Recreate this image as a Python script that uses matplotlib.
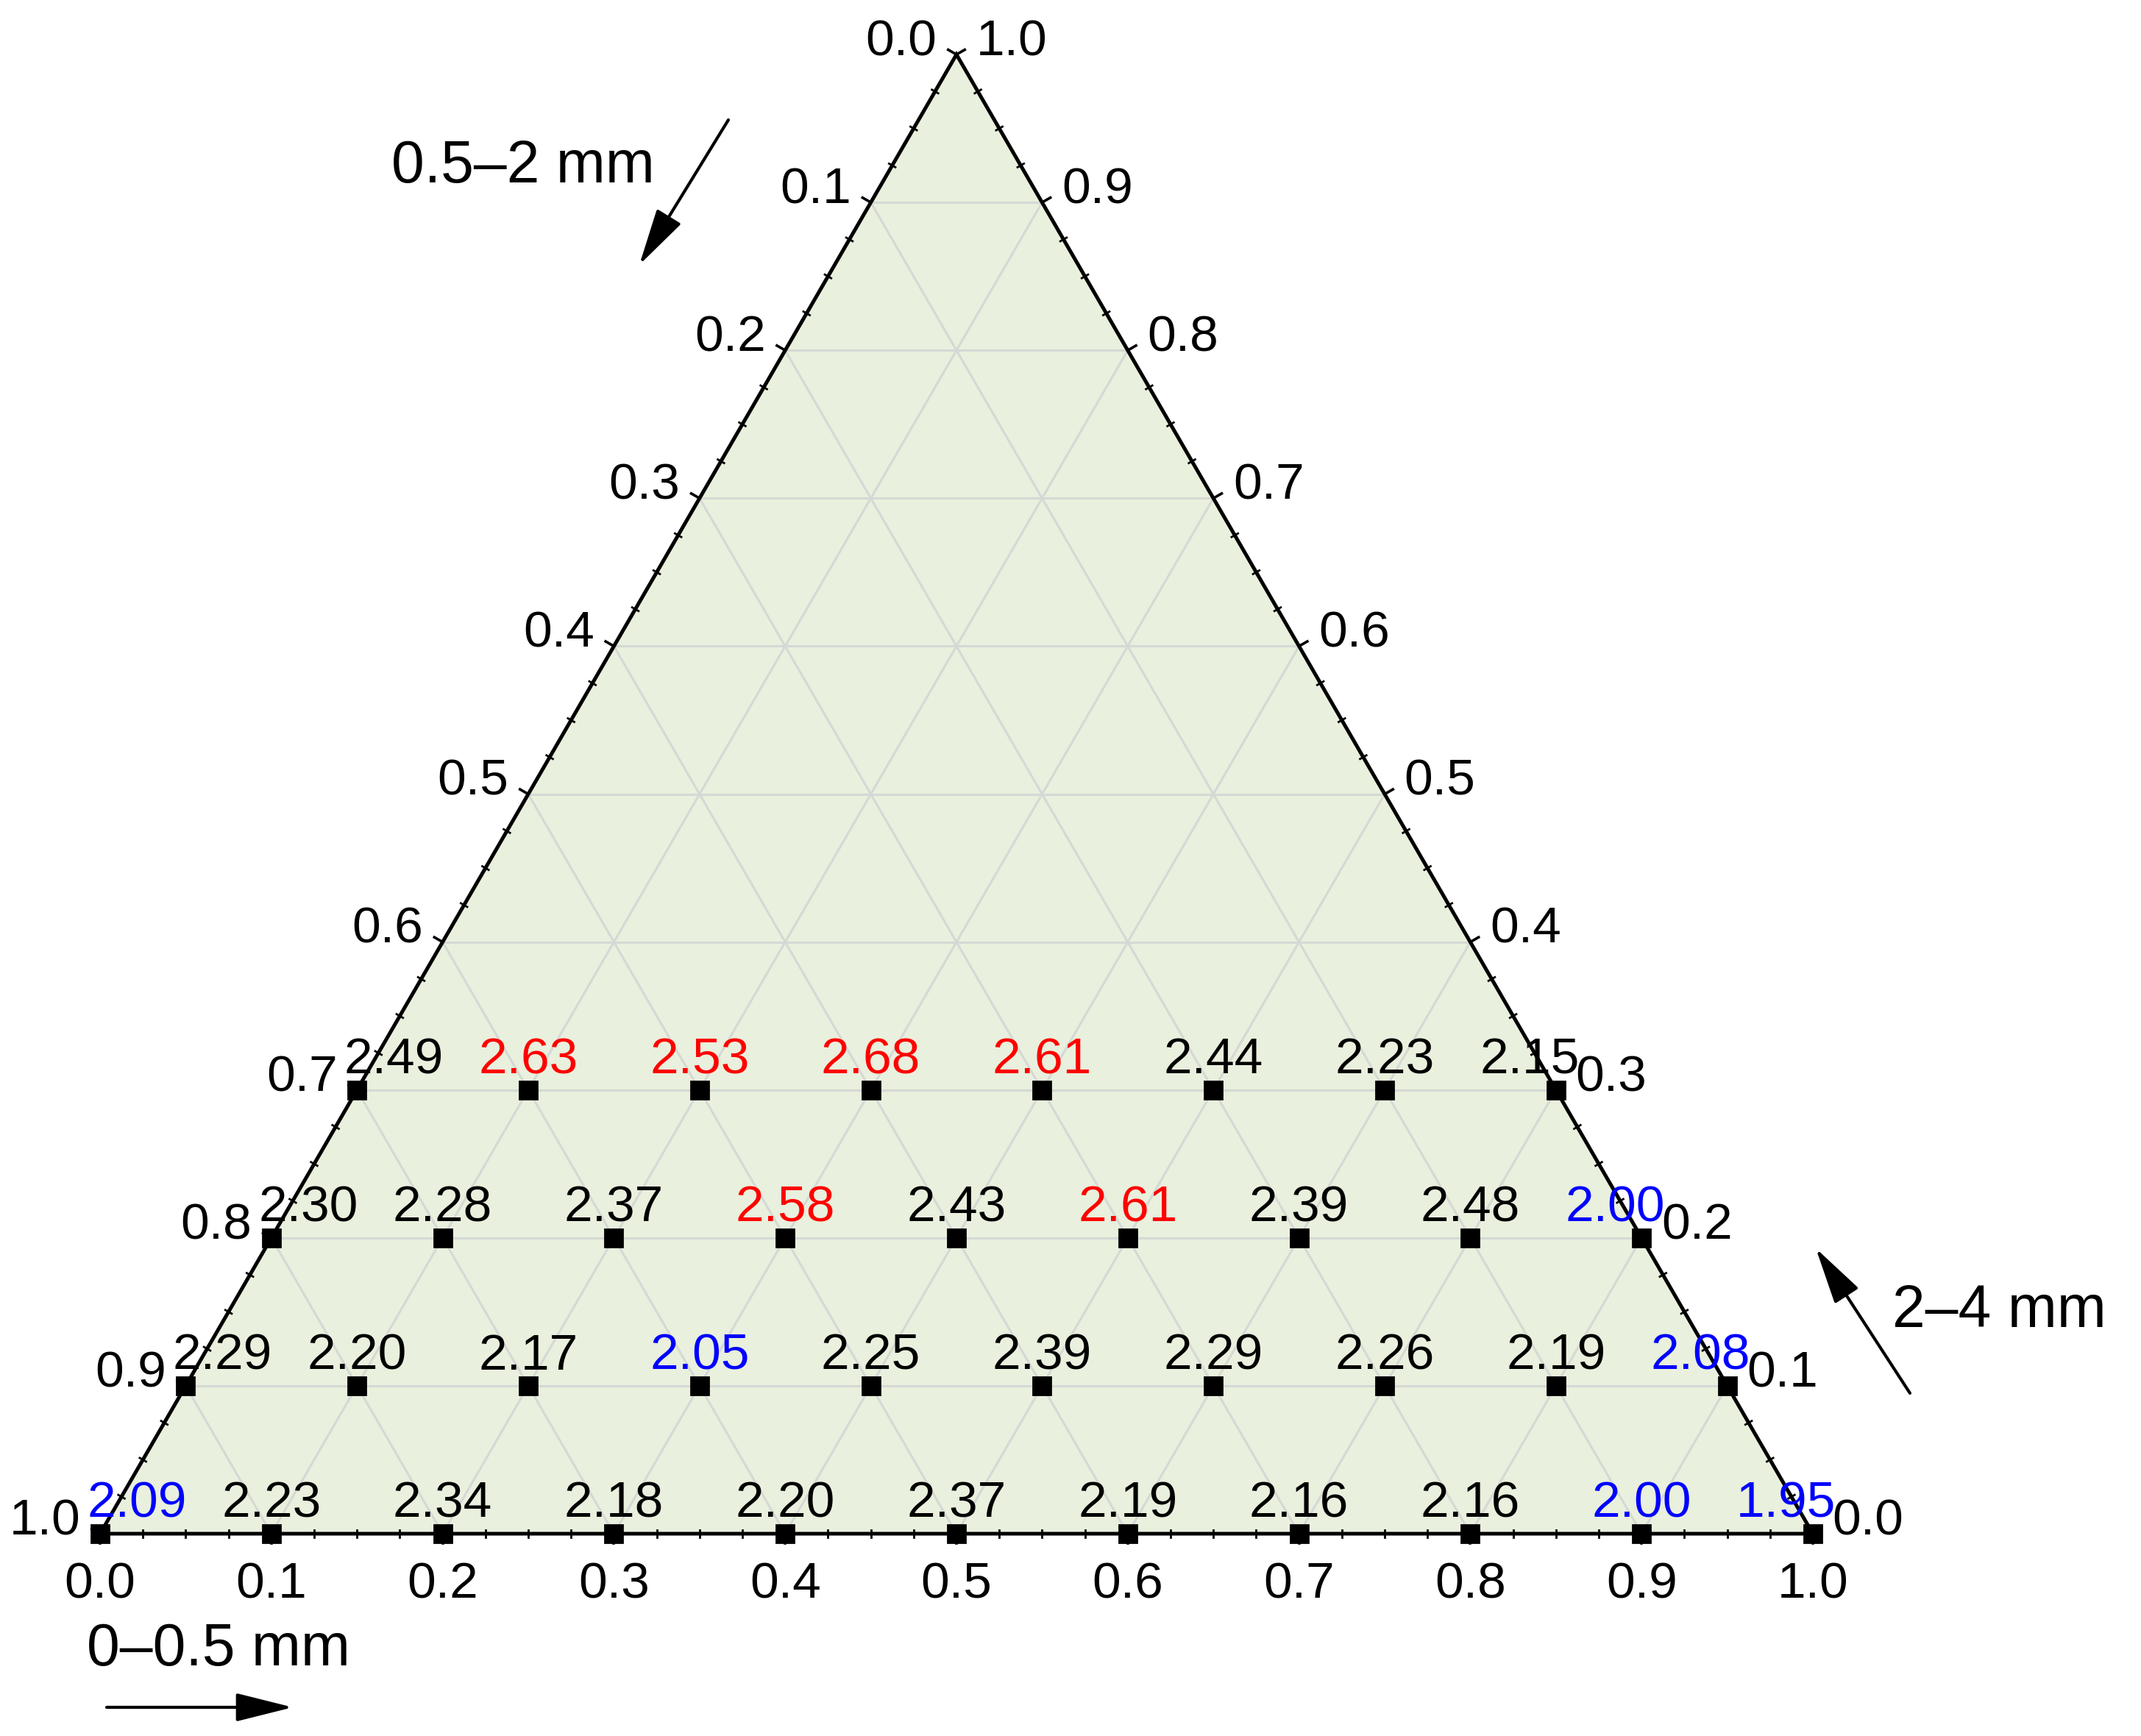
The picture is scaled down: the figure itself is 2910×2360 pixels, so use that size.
import numpy as np
import matplotlib
matplotlib.use("Agg")
import matplotlib.pyplot as plt

plt.rcParams['font.family'] = ['Liberation Sans', 'DejaVu Sans']

# ---------------- data ----------------
# fraction of 0-0.5 mm (bottom axis) and 2-4 mm (right axis); 0.5-2 mm = 1 - both
row0_fine = [0.0, 0.1, 0.2, 0.3, 0.4, 0.5, 0.6, 0.7, 0.8, 0.9, 1.0]
row0_coarse = [0.0] * 11
row0_vals = [2.09, 2.23, 2.34, 2.18, 2.20, 2.37, 2.19, 2.16, 2.16, 2.00, 1.95]

row1_fine = [0.0, 0.1, 0.2, 0.3, 0.4, 0.5, 0.6, 0.7, 0.8, 0.9]
row1_coarse = [0.1] * 10
row1_vals = [2.29, 2.20, 2.17, 2.05, 2.25, 2.39, 2.29, 2.26, 2.19, 2.08]

row2_fine = [0.0, 0.1, 0.2, 0.3, 0.4, 0.5, 0.6, 0.7, 0.8]
row2_coarse = [0.2] * 9
row2_vals = [2.30, 2.28, 2.37, 2.58, 2.43, 2.61, 2.39, 2.48, 2.00]

row3_fine = [0.0, 0.1, 0.2, 0.3, 0.4, 0.5, 0.6, 0.7]
row3_coarse = [0.3] * 8
row3_vals = [2.49, 2.63, 2.53, 2.68, 2.61, 2.44, 2.23, 2.15]

tick_values = [0.0, 0.1, 0.2, 0.3, 0.4, 0.5, 0.6, 0.7, 0.8, 0.9, 1.0]
tick_labels = ['0.0', '0.1', '0.2', '0.3', '0.4', '0.5', '0.6', '0.7', '0.8', '0.9', '1.0']

title_bottom = '0\u20130.5 mm'
title_left = '0.5\u20132 mm'
title_right = '2\u20134 mm'

high_thr = 2.50
low_thr = 2.10

fine = row0_fine + row1_fine + row2_fine + row3_fine
coarse = row0_coarse + row1_coarse + row2_coarse + row3_coarse
vals = row0_vals + row1_vals + row2_vals + row3_vals

# ---------------- layout ----------------
W, H, DPI = 2910, 2360, 200
fig = plt.figure(figsize=(W / DPI, H / DPI), dpi=DPI)
ax = fig.add_axes([0, 0, 1, 1])
Sx = 2328.0          # pixels per unit (horizontal)
Sy = 2322.0          # pixels per unit (vertical)
x0_px, y0_px = 136.0, 2360 - 2085.0   # bottom-left vertex (from figure bottom)
ax.set_xlim(-x0_px / Sx, (W - x0_px) / Sx)
ax.set_ylim(-y0_px / Sy, (H - y0_px) / Sy)
ax.axis('off')

R3 = np.sqrt(3) / 2


def tern(a, h):
    a = np.asarray(a, float)
    h = np.asarray(h, float)
    return a + h / 2.0, h * R3


fill_col = '#E9F0DD'
grid_col = '#D5D9D5'

# fill
tx, ty = tern([0, 1, 0, 0], [0, 0, 1, 0])
ax.fill(tx, ty, color=fill_col, zorder=0, lw=0)

# grid lines
for v in tick_values[1:-1]:
    gx, gy = tern([0, 1 - v], [v, v])
    ax.plot(gx, gy, color=grid_col, lw=1.1, zorder=1)
    gx, gy = tern([v, v], [0, 1 - v])
    ax.plot(gx, gy, color=grid_col, lw=1.1, zorder=1)
    gx, gy = tern([1 - v, 0], [0, 1 - v])
    ax.plot(gx, gy, color=grid_col, lw=1.1, zorder=1)

# triangle outline
ax.plot(tx, ty, color='black', lw=1.8, zorder=3, solid_joinstyle='miter')

# ticks
minor = np.arange(0, 1.0001, 0.025)
mlen = 5 / Sx
Mlen = 13 / Sx
edges = {
    'bottom': (lambda t: tern(t, 0), np.array([0, -1.0])),
    'left': (lambda t: tern(0, 1 - t), np.array([-R3, 0.5])),
    'right': (lambda t: tern(1 - t, t), np.array([R3, 0.5])),
}
for name, (f, n) in edges.items():
    for t in minor:
        px, py = f(t)
        is_major = abs(round(t * 10) - t * 10) < 1e-6
        if is_major:
            ax.plot([px, px + n[0] * Mlen], [py, py + n[1] * Mlen],
                    color='black', lw=1.3, zorder=3)
        else:
            ax.plot([px - n[0] * mlen, px + n[0] * mlen],
                    [py - n[1] * mlen, py + n[1] * mlen],
                    color='black', lw=1.0, zorder=3)

# tick labels
tfs = 25
for v, lab in zip(tick_values, tick_labels):
    bx, by = tern(v, 0)
    ax.annotate(lab, (bx, by), xytext=(0, -25), textcoords='offset points',
                ha='center', va='center', fontsize=tfs)
    lx, ly = tern(0, 1 - v)
    ax.annotate(lab, (lx, ly), xytext=(-27, 6), textcoords='offset points',
                ha='center', va='center', fontsize=tfs)
    rx, ry = tern(1 - v, v)
    ax.annotate(lab, (rx, ry), xytext=(27, 6), textcoords='offset points',
                ha='center', va='center', fontsize=tfs)

# points
px_, py_ = tern(fine, coarse)
ax.plot(px_, py_, ls='none', marker='s', ms=8.5, color='black', zorder=5)

# value labels
for a, h, v, xx, yy in zip(fine, coarse, vals, px_, py_):
    col = 'red' if v > high_thr else ('blue' if v < low_thr else 'black')
    dx = 0
    if abs(a) < 1e-9:
        dx = 18
    elif abs(a + h - 1) < 1e-9:
        dx = -13
    ax.annotate(f'{v:.2f}', (xx, yy), xytext=(dx, 14.5), textcoords='offset points',
                ha='center', va='center', fontsize=25, color=col, zorder=6)

# axis titles and arrows (figure pixel positions, y from top)
def fp(x, y):
    return (x / W, 1 - y / H)

afs = 29
fig.text(*fp(711, 227), title_left, ha='center', va='center', fontsize=afs)
fig.text(*fp(2717, 1783), title_right, ha='center', va='center', fontsize=afs)
fig.text(*fp(297, 2243), title_bottom, ha='center', va='center', fontsize=afs)

astyle = dict(arrowstyle='-|>,head_length=1.2,head_width=0.3', color='black',
              lw=1.5, mutation_scale=20, shrinkA=0, shrinkB=0)
ax.annotate('', xy=fp(869, 360), xytext=fp(990, 163), xycoords='figure fraction',
            textcoords='figure fraction', arrowprops=astyle)
ax.annotate('', xy=fp(2468, 1697), xytext=fp(2596, 1894), xycoords='figure fraction',
            textcoords='figure fraction', arrowprops=astyle)
ax.annotate('', xy=fp(398, 2321), xytext=fp(145, 2321), xycoords='figure fraction',
            textcoords='figure fraction', arrowprops=astyle)

fig.savefig('out.png', dpi=DPI, facecolor='white')
